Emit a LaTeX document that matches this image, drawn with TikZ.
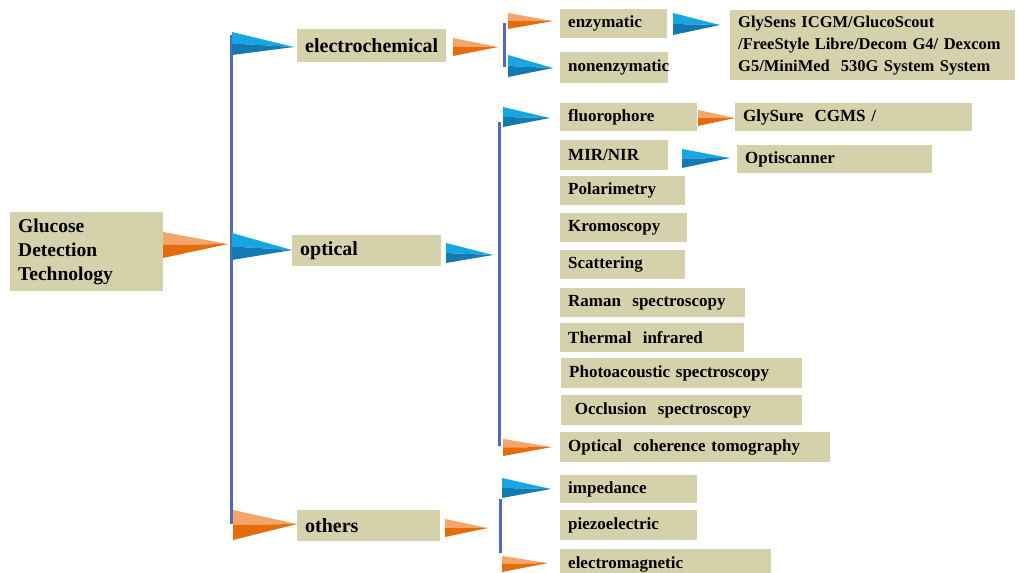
\documentclass[tikz,border=0pt]{standalone}
\usepackage{fontspec}
\setmainfont{Liberation Serif}
\definecolor{boxc}{RGB}{212,209,171}
\definecolor{lblue}{RGB}{22,166,227}
\definecolor{dblue}{RGB}{20,121,176}
\definecolor{lorange}{RGB}{244,165,106}
\definecolor{dorange}{RGB}{228,108,10}
\definecolor{linec}{RGB}{79,107,185}
\newcommand{\bx}[7][]{%
  \pgfmathsetmacro\bw{#5-#3}\pgfmathsetmacro\bh{#6-#4}\pgfmathsetmacro\tw{#5-#3-16}%
  \node[box,#1,minimum width=\bw pt,minimum height=\bh pt,text width=\tw pt,anchor=north west] (#2) at (#3,#4) {#7};}
% flag: x, ytop, ybot, xtip, ytip, light, dark
\newcommand{\fl}[7]{%
  \fill[#6] (#1,#2) -- (#4,#5) -- (#1,{(#2+#3)/2}) -- cycle;
  \fill[#7] (#1,{(#2+#3)/2}) -- (#4,#5) -- (#1,#3) -- cycle;}
\newcommand{\flb}[5]{\fl{#1}{#2}{#3}{#4}{#5}{lblue}{dblue}}
\newcommand{\flo}[5]{\fl{#1}{#2}{#3}{#4}{#5}{lorange}{dorange}}
\tikzset{
  box/.style={fill=boxc, inner xsep=8pt, inner ysep=0pt, align=left,
    font=\fontsize{17}{20}\selectfont\bfseries},
  lvl1/.style={font=\fontsize{20}{24}\selectfont\bfseries},
  rootf/.style={font=\fontsize{19.5}{24}\selectfont\bfseries},
  devf/.style={font=\fontsize{16.5}{22}\selectfont\bfseries},
  pole/.style={draw=linec, line width=3pt}
}
\begin{document}
\begin{tikzpicture}[x=1pt,y=-1pt]
\useasboundingbox (0,0) rectangle (1018,573);
\clip (0,0) rectangle (1018,573);
% boxes
\bx[rootf]{gdt}{10}{212}{163}{291}{Glucose\\Detection\\Technology}
\bx[lvl1]{elec}{297}{29}{446}{62}{electrochemical}
\bx[lvl1]{opt}{292}{235}{441}{266}{optical}
\bx[lvl1]{oth}{297}{510}{440}{541}{others}
\bx{enz}{560}{9}{667}{38}{enzymatic}
\bx{nonenz}{560}{52}{668}{83}{nonenzymatic}
\bx[devf]{glysens}{730}{10}{1015}{80}{GlySens ICGM/GlucoScout\\/FreeStyle Libre/Decom G4/ Dexcom\\G5/MiniMed\ \ 530G System System}
\bx{fluor}{560}{103}{697}{131}{fluorophore}
\bx{glysure}{735}{103}{972}{131}{GlySure\ \ CGMS /}
\bx{mir}{560}{140}{668}{170}{MIR/NIR}
\bx{optis}{737}{145}{932}{173}{Optiscanner}
\bx{polar}{560}{176}{685}{205}{Polarimetry}
\bx{kromo}{560}{213}{687}{242}{Kromoscopy}
\bx{scat}{560}{250}{685}{279}{Scattering}
\bx{raman}{560}{288}{745}{317}{Raman\ \ spectroscopy}
\bx{therm}{560}{323}{744}{352}{Thermal\ \ infrared}
\bx{photo}{561}{358}{802}{388}{Photoacoustic spectroscopy}
\bx{occl}{561}{395}{802}{425}{\ Occlusion\ \ spectroscopy}
\bx{oct}{560}{432}{830}{462}{Optical\ \ coherence tomography}
\bx{imp}{560}{475}{697}{503}{impedance}
\bx{piezo}{560}{510}{697}{540}{piezoelectric}
\bx{emag}{560}{549}{771}{580}{electromagnetic}
% vertical lines
\coordinate (m1) at (231,35); \coordinate (m2) at (231,524);
\draw[pole] (m1) -- (m2);
\coordinate (e1) at (504,23); \coordinate (e2) at (504,67);
\draw[pole] (e1) -- (e2);
\coordinate (o1) at (499,122); \coordinate (o2) at (499,446);
\draw[pole] (o1) -- (o2);
\coordinate (t1) at (500,499); \coordinate (t2) at (500,553);
\draw[pole] (t1) -- (t2);
% flags / arrows
\flo{163}{232}{258}{228}{244}
\flb{232}{32}{55}{294}{47}
\flb{232}{233}{260}{292}{250}
\flo{233}{510}{540}{297}{524}
\flo{453}{38}{56}{498}{47}
\flo{508}{13}{29}{553}{21}
\flb{508}{55}{77}{553}{68}
\flb{673}{13}{35}{720}{25}
\flb{446}{243}{263}{493}{255}
\flb{503}{107}{127}{550}{118}
\flo{698}{110}{126}{735}{118}
\flb{682}{149}{168}{730}{158}
\flo{503}{439}{456}{552}{447}
\flb{502}{478}{498}{551}{489}
\flo{445}{519}{537}{488}{528}
\flo{502}{556}{572}{548}{563}
\end{tikzpicture}
\end{document}
